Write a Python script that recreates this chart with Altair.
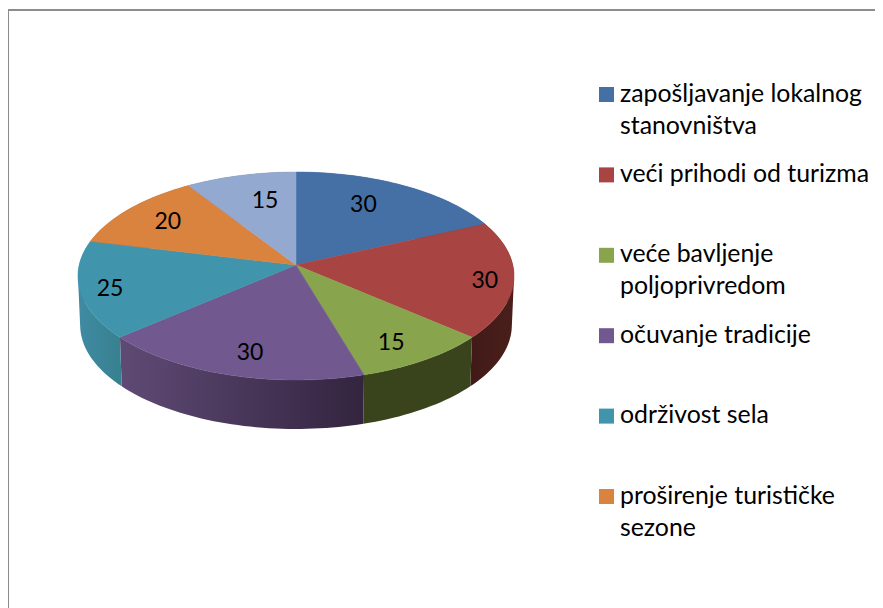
import math
import altair as alt
import pandas as pd

# ---- chart values ----
slice_values = [30, 30, 15, 30, 25, 20, 15]
slice_colors = ["#4470a6", "#a84442", "#88a44d", "#71588f", "#4095ad", "#d9833e", "#94a9cf"]
wall_left = ["#3a5a85", "#411a17", "#3a441c", "#5f4a75", "#408ba3", "#a06030", "#6a7a95"]
wall_right = ["#3a5a85", "#4a1f1b", "#3a441c", "#33243f", "#37808f", "#a06030", "#6a7a95"]

legend_names = [
    ["zapošljavanje lokalnog", "stanovništva"],
    ["veći prihodi od turizma"],
    ["veće bavljenje", "poljoprivredom"],
    ["očuvanje tradicije"],
    ["održivost sela"],
    ["proširenje turističke", "sezone"],
]

# ---- layout of the tilted pie ----
W, H = 867, 600
HUB = (288, 257)
A, B, K = 216.8, 102.8, -0.1058
DEPTH = 49
BASE_SHRINK = 0.99
label_rho = 0.75
label_nudge = [(-15, -1), (26, -5), (1, -8.5), (3.6, -8), (-25, -5.5), (-1.5, 0), (11.6, -4.7)]
FONT = "Lato"


def rim(theta_deg, rho=1.0):
    t = math.radians(theta_deg)
    u, v = rho * math.sin(t), rho * math.cos(t)
    d = 1 - K * v
    return A * u / d, B * v / d


def ring_of(points):
    area = sum(points[i][0] * points[(i + 1) % len(points)][1]
               - points[(i + 1) % len(points)][0] * points[i][1]
               for i in range(len(points)))
    pts = points if area >= 0 else list(reversed(points))
    ring = [[round(x, 2), round(y, 2)] for x, y in pts]
    ring.append(ring[0])
    return ring


def feature(points, fill):
    return {"type": "Feature", "properties": {"fill": fill},
            "geometry": {"type": "Polygon", "coordinates": [ring_of(points)]}}


PROJECTION = dict(type="identity", reflectY=True, scale=1, translate=list(HUB))

total = sum(slice_values)
edges = [0.0]
for v in slice_values:
    edges.append(edges[-1] + v / total * 360)

tops, wall_layers, labels = [], [], []
for i, color in enumerate(slice_colors):
    a0, a1 = edges[i], edges[i + 1]
    n = max(2, int((a1 - a0) / 1.5))
    thetas = [a0 + (a1 - a0) * j / n for j in range(n + 1)]
    upper = [rim(t) for t in thetas]
    tops.append(feature([(0, 0)] + upper, color))
    quads = []
    for j in range(n):
        p, q = upper[j], upper[j + 1]
        quads.append([ring_of([p, q, (q[0] * BASE_SHRINK, q[1] - DEPTH),
                               (p[0] * BASE_SHRINK, p[1] - DEPTH)])])
    gradient = alt.Gradient(
        gradient="linear", x1=0, x2=1, y1=0, y2=0,
        stops=[alt.GradientStop(color=wall_left[i], offset=0),
               alt.GradientStop(color=wall_right[i], offset=1)],
    )
    wall = {"type": "Feature", "properties": {},
            "geometry": {"type": "MultiPolygon", "coordinates": quads}}
    wall_layers.append(
        alt.Chart(alt.Data(values=[wall]))
        .mark_geoshape(fill=gradient, stroke=None)
        .project(**PROJECTION)
    )
    lx, ly = rim((a0 + a1) / 2, label_rho)
    labels.append({"value": str(slice_values[i]),
                   "lon": lx + label_nudge[i][0],
                   "lat": ly + label_nudge[i][1]})

top_layer = alt.Chart(alt.Data(values=tops)).mark_geoshape(strokeWidth=0.5).encode(
    fill=alt.Fill("properties.fill:N", scale=None),
    stroke=alt.Stroke("properties.fill:N", scale=None),
).project(**PROJECTION)

label_layer = alt.Chart(pd.DataFrame(labels)).mark_text(
    font=FONT, fontSize=23, color="#000000", baseline="middle", align="center"
).encode(longitude="lon:Q", latitude="lat:Q", text="value:N").project(**PROJECTION)

# ---- legend ----
row_scale = alt.Scale(domain=[0, 5], range=[86.5, 488.5])
text_scale = alt.Scale(domain=[0, 5], range=[87.3, 489.3])
keys = pd.DataFrame({"row": range(6), "color": slice_colors[:6]})
key_layer = alt.Chart(keys).mark_square(size=225, opacity=1, strokeWidth=0).encode(
    x=alt.value(598.5),
    y=alt.Y("row:Q", scale=row_scale, axis=None),
    fill=alt.Fill("color:N", scale=None),
)
line_rows = []
for r, lines in enumerate(legend_names):
    for k, line in enumerate(lines):
        line_rows.append({"row": r + k * 0.4, "text": line})
text_layer = alt.Chart(pd.DataFrame(line_rows)).mark_text(
    font=FONT, fontSize=24.85, color="#000000", align="left", baseline="middle"
).encode(
    x=alt.value(612),
    y=alt.Y("row:Q", scale=text_scale, axis=None),
    text="text:N",
)

# ---- frame ----
frame_top = alt.Chart(pd.DataFrame({"a": [0]})).mark_rule(color="#8c8c8c", strokeWidth=2).encode(
    x=alt.value(0), x2=alt.value(W), y=alt.value(2))
frame_left = alt.Chart(pd.DataFrame({"a": [0]})).mark_rule(color="#8c8c8c", strokeWidth=2).encode(
    x=alt.value(0), y=alt.value(2), y2=alt.value(H))

chart = alt.layer(
    frame_top, frame_left, *wall_layers, top_layer, label_layer, key_layer, text_layer
).properties(
    width=W, height=H, padding=0, autosize=alt.AutoSizeParams(type="none"),
).configure_view(stroke=None)

chart.save("out.html", embed_options={"renderer": "svg", "actions": False})
